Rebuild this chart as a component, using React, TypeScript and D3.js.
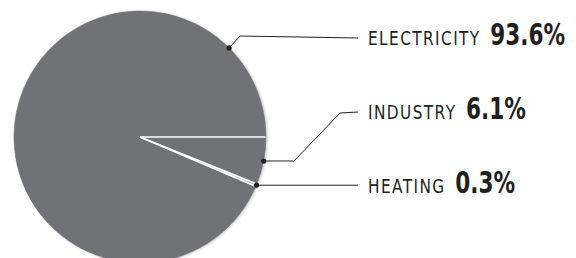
import React, { useEffect, useRef } from 'react';
import * as d3 from 'd3';

// slice order clockwise from 3 o'clock
const categories = ['INDUSTRY', 'HEATING', 'ELECTRICITY'];
const shares = [6.1, 0.3, 93.6];
const shareLabels = ['6.1%', '0.3%', '93.6%'];

export default function App() {
    const ref = useRef<SVGSVGElement | null>(null);
    useEffect(() => {
        const svg = d3.select(ref.current);
        svg.selectAll('*').remove();
        const width = 576, height = 258;
        const cx = 140, cy = 137, r = 126;
        const ink = '#231f20', grey = '#717276';
        svg.attr('viewBox', `0 0 ${width} ${height}`);

        const defs = svg.append('defs');
        const f = defs.append('filter').attr('id', 'sh').attr('x', '-10%').attr('y', '-10%').attr('width', '120%').attr('height', '120%');
        f.append('feDropShadow').attr('dx', 1.2).attr('dy', 0.5).attr('stdDeviation', 1.3).attr('flood-color', '#000').attr('flood-opacity', 0.22);

        const pie = d3.pie<number>().sort(null).value(d => d)
            .startAngle(Math.PI / 2).endAngle(Math.PI / 2 + 2 * Math.PI);
        const arcs = pie(shares);
        const arc = d3.arc<d3.PieArcDatum<number>>().innerRadius(0).outerRadius(r);

        const g = svg.append('g').attr('transform', `translate(${cx},${cy})`);
        g.append('g').attr('filter', 'url(#sh)')
            .selectAll('path').data(arcs).join('path')
            .attr('d', arc)
            .attr('fill', grey)
            .attr('stroke', grey)
            .attr('stroke-width', 0.5);
        // white separators along each slice boundary
        g.selectAll('line.sep').data(arcs).join('line')
            .attr('class', 'sep')
            .attr('x1', 0).attr('y1', 0)
            .attr('x2', d => (r - 0.5) * Math.sin(d.startAngle))
            .attr('y2', d => -(r - 0.5) * Math.cos(d.startAngle))
            .attr('stroke', '#fff').attr('stroke-width', 1.7);

        // label leaders
        const textX = 368, lineEnd = 358;
        const onRim = (a: number) => [cx + r * Math.sin(a), cy - r * Math.cos(a)];
        const anchors = arcs.map((a, i) =>
            categories[i] === 'ELECTRICITY' ? Math.PI / 4 : (a.startAngle + a.endAngle) / 2);
        const textY = [119, 193, 45];
        const elbows: number[][][] = [
            [[294, 0], [340, 113]],
            [],
            [[240, 36]],
        ];
        const font = "'DejaVu Sans', 'Liberation Sans', sans-serif";
        const sx = 0.79, ls = 1.8;

        const lbl = svg.append('g');
        arcs.forEach((_, i) => {
            const [px, py] = onRim(anchors[i]);
            const lineY = textY[i] - 7;
            const pts: number[][] = [[px, py]];
            elbows[i].forEach(e => pts.push([e[0], e[1] === 0 ? py : e[1]]));
            pts.push([lineEnd, i === 1 ? py : lineY]);
            lbl.append('path')
                .attr('d', d3.line()(pts as [number, number][]))
                .attr('fill', 'none').attr('stroke', ink).attr('stroke-width', 1);
            lbl.append('circle').attr('cx', px).attr('cy', py).attr('r', 2.6).attr('fill', ink);

            const name = lbl.append('text')
                .attr('transform', `translate(${textX},${textY[i]}) scale(${sx},1)`)
                .attr('fill', ink)
                .style('font-family', font)
                .style('font-size', '19.4px')
                .style('letter-spacing', `${ls}px`)
                .text(categories[i]);
            const nameW = ((name.node() as SVGTextElement).getComputedTextLength() - ls) * sx;
            lbl.append('text')
                .attr('transform', `translate(${textX + nameW + 11},${textY[i] - 0.3}) scale(0.72,1)`)
                .attr('fill', ink)
                .style('font-family', font)
                .style('font-size', '30px')
                .style('font-weight', 'bold')
                .text(shareLabels[i]);
        });
    }, []);
    return <svg ref={ref} width={576} height={258} style={{ position: 'absolute', left: 0, top: 0 }} />;
}
